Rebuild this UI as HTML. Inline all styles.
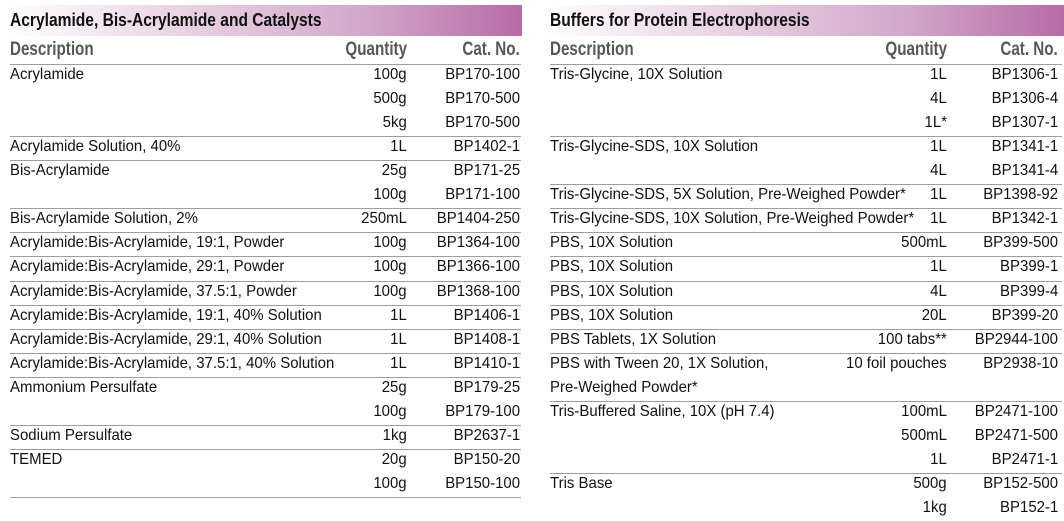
<!DOCTYPE html>
<html>
<head>
<meta charset="utf-8">
<style>
  html,body{margin:0;padding:0;background:#fff;}
  body{width:1064px;height:520px;position:relative;overflow:hidden;font-family:"Liberation Sans",Arial,sans-serif;}
  .band{position:absolute;top:5px;height:31px;background:linear-gradient(to right,#ffffff 0%,#e9d2e4 35%,#d2a7ca 70%,#b66ba5 100%);}
  .title{position:absolute;top:9px;font-size:18px;font-weight:bold;line-height:22px;color:#111;white-space:nowrap;transform:scaleX(.865);transform-origin:0 0;}
  .hd{position:absolute;top:39px;font-size:19px;font-weight:bold;line-height:22px;color:#575757;white-space:nowrap;}
  .hl{transform:scaleX(.80);transform-origin:0 0;}
  .hr{transform:scaleX(.80);transform-origin:100% 0;}
  .ln{position:absolute;height:1px;background:#9e9e9e;}
  .L.ln{left:10px;width:511px;}
  .R.ln{left:550px;width:512px;}
  .row{position:absolute;left:0;width:1064px;height:24px;}
  .row span{position:absolute;top:0;font-size:16px;line-height:22px;color:#111;white-space:nowrap;}
  .d{transform:scaleX(.935);transform-origin:0 0;}
  .q,.c{transform:scaleX(.935);transform-origin:100% 0;}
  .L .d{left:10px;} .L .q{right:657px;} .L .c{right:544px;}
  .R .d{left:550px;} .R .q{right:117px;} .R .c{right:6px;}
</style>
</head>
<body>
<div class="band" style="left:2px;width:520px;"></div>
<div class="band" style="left:542px;width:522px;"></div>
<div class="title" style="left:10px;">Acrylamide, Bis-Acrylamide and Catalysts</div>
<div class="title" style="left:550px;">Buffers for Protein Electrophoresis</div>

<div class="hd hl" style="left:10px;">Description</div>
<div class="hd hr" style="right:657px;">Quantity</div>
<div class="hd hr" style="right:544px;">Cat. No.</div>
<div class="hd hl" style="left:550px;">Description</div>
<div class="hd hr" style="right:117px;">Quantity</div>
<div class="hd hr" style="right:6px;">Cat. No.</div>

<!-- left lines -->
<div class="L ln" style="top:64px;"></div>
<div class="L ln" style="top:136px;"></div>
<div class="L ln" style="top:160px;"></div>
<div class="L ln" style="top:208px;"></div>
<div class="L ln" style="top:232px;"></div>
<div class="L ln" style="top:256px;"></div>
<div class="L ln" style="top:281px;"></div>
<div class="L ln" style="top:305px;"></div>
<div class="L ln" style="top:329px;"></div>
<div class="L ln" style="top:353px;"></div>
<div class="L ln" style="top:377px;"></div>
<div class="L ln" style="top:425px;"></div>
<div class="L ln" style="top:449px;"></div>
<div class="L ln" style="top:497px;"></div>

<!-- right lines -->
<div class="R ln" style="top:64px;"></div>
<div class="R ln" style="top:136px;"></div>
<div class="R ln" style="top:184px;"></div>
<div class="R ln" style="top:208px;"></div>
<div class="R ln" style="top:232px;"></div>
<div class="R ln" style="top:256px;"></div>
<div class="R ln" style="top:281px;"></div>
<div class="R ln" style="top:305px;"></div>
<div class="R ln" style="top:329px;"></div>
<div class="R ln" style="top:353px;"></div>
<div class="R ln" style="top:401px;"></div>
<div class="R ln" style="top:473px;"></div>

<!-- left rows -->
<div class="row L" style="top:64px;"><span class="d">Acrylamide</span><span class="q">100g</span><span class="c">BP170-100</span></div>
<div class="row L" style="top:88px;"><span class="q">500g</span><span class="c">BP170-500</span></div>
<div class="row L" style="top:112px;"><span class="q">5kg</span><span class="c">BP170-500</span></div>
<div class="row L" style="top:136px;"><span class="d">Acrylamide Solution, 40%</span><span class="q">1L</span><span class="c">BP1402-1</span></div>
<div class="row L" style="top:160px;"><span class="d">Bis-Acrylamide</span><span class="q">25g</span><span class="c">BP171-25</span></div>
<div class="row L" style="top:184px;"><span class="q">100g</span><span class="c">BP171-100</span></div>
<div class="row L" style="top:208px;"><span class="d">Bis-Acrylamide Solution, 2%</span><span class="q">250mL</span><span class="c">BP1404-250</span></div>
<div class="row L" style="top:232px;"><span class="d">Acrylamide:Bis-Acrylamide, 19:1, Powder</span><span class="q">100g</span><span class="c">BP1364-100</span></div>
<div class="row L" style="top:256px;"><span class="d">Acrylamide:Bis-Acrylamide, 29:1, Powder</span><span class="q">100g</span><span class="c">BP1366-100</span></div>
<div class="row L" style="top:281px;"><span class="d">Acrylamide:Bis-Acrylamide, 37.5:1, Powder</span><span class="q">100g</span><span class="c">BP1368-100</span></div>
<div class="row L" style="top:305px;"><span class="d">Acrylamide:Bis-Acrylamide, 19:1, 40% Solution</span><span class="q">1L</span><span class="c">BP1406-1</span></div>
<div class="row L" style="top:329px;"><span class="d">Acrylamide:Bis-Acrylamide, 29:1, 40% Solution</span><span class="q">1L</span><span class="c">BP1408-1</span></div>
<div class="row L" style="top:353px;"><span class="d">Acrylamide:Bis-Acrylamide, 37.5:1, 40% Solution</span><span class="q">1L</span><span class="c">BP1410-1</span></div>
<div class="row L" style="top:377px;"><span class="d">Ammonium Persulfate</span><span class="q">25g</span><span class="c">BP179-25</span></div>
<div class="row L" style="top:401px;"><span class="q">100g</span><span class="c">BP179-100</span></div>
<div class="row L" style="top:425px;"><span class="d">Sodium Persulfate</span><span class="q">1kg</span><span class="c">BP2637-1</span></div>
<div class="row L" style="top:449px;"><span class="d">TEMED</span><span class="q">20g</span><span class="c">BP150-20</span></div>
<div class="row L" style="top:473px;"><span class="q">100g</span><span class="c">BP150-100</span></div>

<!-- right rows -->
<div class="row R" style="top:64px;"><span class="d">Tris-Glycine, 10X Solution</span><span class="q">1L</span><span class="c">BP1306-1</span></div>
<div class="row R" style="top:88px;"><span class="q">4L</span><span class="c">BP1306-4</span></div>
<div class="row R" style="top:112px;"><span class="q">1L*</span><span class="c">BP1307-1</span></div>
<div class="row R" style="top:136px;"><span class="d">Tris-Glycine-SDS, 10X Solution</span><span class="q">1L</span><span class="c">BP1341-1</span></div>
<div class="row R" style="top:160px;"><span class="q">4L</span><span class="c">BP1341-4</span></div>
<div class="row R" style="top:184px;"><span class="d">Tris-Glycine-SDS, 5X Solution, Pre-Weighed Powder*</span><span class="q">1L</span><span class="c">BP1398-92</span></div>
<div class="row R" style="top:208px;"><span class="d">Tris-Glycine-SDS, 10X Solution, Pre-Weighed Powder*</span><span class="q">1L</span><span class="c">BP1342-1</span></div>
<div class="row R" style="top:232px;"><span class="d">PBS, 10X Solution</span><span class="q">500mL</span><span class="c">BP399-500</span></div>
<div class="row R" style="top:256px;"><span class="d">PBS, 10X Solution</span><span class="q">1L</span><span class="c">BP399-1</span></div>
<div class="row R" style="top:281px;"><span class="d">PBS, 10X Solution</span><span class="q">4L</span><span class="c">BP399-4</span></div>
<div class="row R" style="top:305px;"><span class="d">PBS, 10X Solution</span><span class="q">20L</span><span class="c">BP399-20</span></div>
<div class="row R" style="top:329px;"><span class="d">PBS Tablets, 1X Solution</span><span class="q">100 tabs**</span><span class="c">BP2944-100</span></div>
<div class="row R" style="top:353px;"><span class="d">PBS with Tween 20, 1X Solution,</span><span class="q">10 foil pouches</span><span class="c">BP2938-10</span></div>
<div class="row R" style="top:377px;"><span class="d">Pre-Weighed Powder*</span></div>
<div class="row R" style="top:401px;"><span class="d">Tris-Buffered Saline, 10X (pH 7.4)</span><span class="q">100mL</span><span class="c">BP2471-100</span></div>
<div class="row R" style="top:425px;"><span class="q">500mL</span><span class="c">BP2471-500</span></div>
<div class="row R" style="top:449px;"><span class="q">1L</span><span class="c">BP2471-1</span></div>
<div class="row R" style="top:473px;"><span class="d">Tris Base</span><span class="q">500g</span><span class="c">BP152-500</span></div>
<div class="row R" style="top:497px;"><span class="q">1kg</span><span class="c">BP152-1</span></div>
</body>
</html>
